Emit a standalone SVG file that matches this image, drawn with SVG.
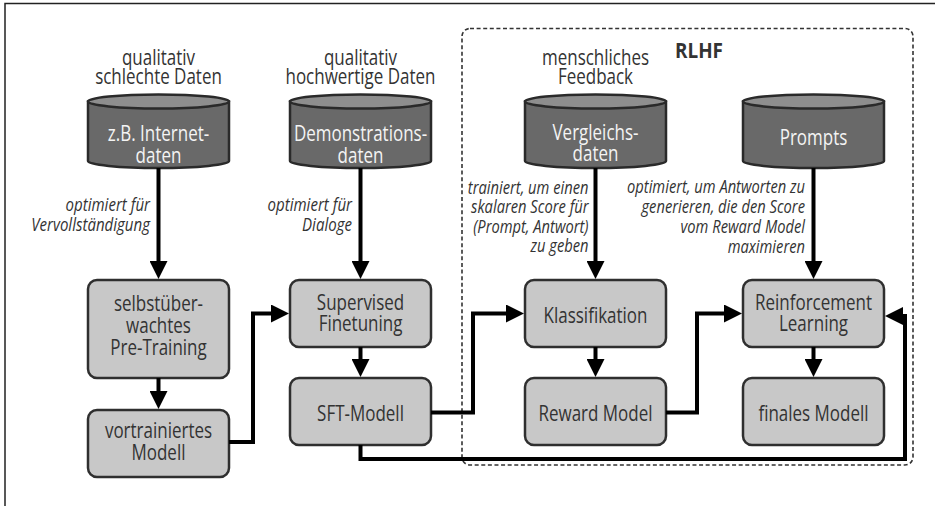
<svg xmlns="http://www.w3.org/2000/svg" width="935" height="506" viewBox="0 0 935 506">
  <style>
    .frame { fill: none; stroke: #222; stroke-width: 1.5; }
    .rlhf { fill: none; stroke: #333; stroke-width: 1.6; stroke-dasharray: 4 2.6; }
    .cyl-body { fill: #696969; stroke: #2a2a2a; stroke-width: 2.5; }
    .cyl-cap { fill: #8e8e8e; stroke: #2a2a2a; stroke-width: 2.5; }
    .box { fill: #c8c8c8; stroke: #2f2f2f; stroke-width: 2.5; }
    .conn { fill: none; stroke: #000; stroke-width: 4; stroke-linejoin: miter; }
    text { font-family: "Open Sans", "Noto Sans", "DejaVu Sans", sans-serif; font-weight: 500; }
    .t-cyl { font-size: 21.5px; fill: #f4f4f4; text-anchor: middle; }
    .t-box { font-size: 21.5px; fill: #333; text-anchor: middle; }
    .t-head { font-size: 21.5px; fill: #333; text-anchor: middle; }
    .t-note { font-size: 17.5px; font-style: italic; fill: #333; text-anchor: end; }
    .t-title { font-size: 22px; font-weight: bold; fill: #333; }
  </style>
  <defs>
    <marker id="arrow" markerUnits="userSpaceOnUse" markerWidth="18" markerHeight="18" viewBox="0 0 18 18" refX="1" refY="9" orient="auto">
      <path d="M0,0 L18,9 L0,18 Z" fill="#000"/>
    </marker>
  </defs>

  <!-- page frame -->
  <path class="frame" d="M5,506 V3.5 H935"/>

  <!-- RLHF region -->
  <g id="rlhf-region">
    <rect class="rlhf" x="462" y="28.5" width="451" height="436.5" rx="8"/>
    <text class="t-title" transform="translate(675,58) scale(0.86,1)">RLHF</text>
  </g>

  <!-- column headings -->
  <g id="headings">
    <text class="t-head" transform="translate(158.5,0) scale(0.79,1)"><tspan x="0" y="65">qualitativ</tspan><tspan x="0" y="84">schlechte Daten</tspan></text>
    <text class="t-head" transform="translate(360.5,0) scale(0.79,1)"><tspan x="0" y="65">qualitativ</tspan><tspan x="0" y="84">hochwertige Daten</tspan></text>
    <text class="t-head" transform="translate(595.5,0) scale(0.79,1)"><tspan x="0" y="65">menschliches</tspan><tspan x="0" y="84">Feedback</tspan></text>
  </g>

  <!-- data stores -->
  <g id="internetdaten">
    <path class="cyl-body" d="M88,101.5 V161 A70.5,7 0 0 0 229,161 V101.5 Z"/>
    <ellipse class="cyl-cap" cx="158.5" cy="101.5" rx="70.5" ry="7"/>
    <text class="t-cyl" transform="translate(158.5,0) scale(0.79,1)"><tspan x="0" y="141">z.B. Internet-</tspan><tspan x="0" y="163">daten</tspan></text>
  </g>
  <g id="demonstrationsdaten">
    <path class="cyl-body" d="M290,101.5 V161 A70.5,7 0 0 0 431,161 V101.5 Z"/>
    <ellipse class="cyl-cap" cx="360.5" cy="101.5" rx="70.5" ry="7"/>
    <text class="t-cyl" transform="translate(360.5,0) scale(0.79,1)"><tspan x="0" y="141">Demonstrations-</tspan><tspan x="0" y="163">daten</tspan></text>
  </g>
  <g id="vergleichsdaten">
    <path class="cyl-body" d="M525,101.5 V161 A70.5,7 0 0 0 666,161 V101.5 Z"/>
    <ellipse class="cyl-cap" cx="595.5" cy="101.5" rx="70.5" ry="7"/>
    <text class="t-cyl" transform="translate(595.5,0) scale(0.79,1)"><tspan x="0" y="140">Vergleichs-</tspan><tspan x="0" y="161">daten</tspan></text>
  </g>
  <g id="prompts">
    <path class="cyl-body" d="M743,101.5 V161 A70.5,7 0 0 0 884,161 V101.5 Z"/>
    <ellipse class="cyl-cap" cx="813.5" cy="101.5" rx="70.5" ry="7"/>
    <text class="t-cyl" transform="translate(813.5,0) scale(0.79,1)"><tspan x="0" y="145">Prompts</tspan></text>
  </g>

  <!-- process steps -->
  <g id="pretraining">
    <rect class="box" x="88" y="280" width="141" height="98" rx="9"/>
    <text class="t-box" transform="translate(158.5,0) scale(0.79,1)"><tspan x="0" y="311.5">selbstüber-</tspan><tspan x="0" y="333">wachtes</tspan><tspan x="0" y="355">Pre-Training</tspan></text>
  </g>
  <g id="vortrainiertes-modell">
    <rect class="box" x="88" y="410" width="141" height="67" rx="9"/>
    <text class="t-box" transform="translate(158.5,0) scale(0.79,1)"><tspan x="0" y="438.5">vortrainiertes</tspan><tspan x="0" y="460">Modell</tspan></text>
  </g>
  <g id="supervised-finetuning">
    <rect class="box" x="290" y="280" width="141" height="67" rx="9"/>
    <text class="t-box" transform="translate(360.5,0) scale(0.79,1)"><tspan x="0" y="310">Supervised</tspan><tspan x="0" y="331.5">Finetuning</tspan></text>
  </g>
  <g id="sft-modell">
    <rect class="box" x="290" y="378" width="141" height="67" rx="9"/>
    <text class="t-box" transform="translate(360.5,0) scale(0.79,1)"><tspan x="0" y="421.5">SFT-Modell</tspan></text>
  </g>
  <g id="klassifikation">
    <rect class="box" x="525" y="280" width="141" height="67" rx="9"/>
    <text class="t-box" transform="translate(595.5,0) scale(0.79,1)"><tspan x="0" y="323">Klassifikation</tspan></text>
  </g>
  <g id="reward-model">
    <rect class="box" x="525" y="378" width="141" height="67" rx="9"/>
    <text class="t-box" transform="translate(595.5,0) scale(0.79,1)"><tspan x="0" y="421.5">Reward Model</tspan></text>
  </g>
  <g id="reinforcement-learning">
    <rect class="box" x="743" y="280" width="141" height="67" rx="9"/>
    <text class="t-box" transform="translate(813.5,0) scale(0.79,1)"><tspan x="0" y="310">Reinforcement</tspan><tspan x="0" y="331.5">Learning</tspan></text>
  </g>
  <g id="finales-modell">
    <rect class="box" x="743" y="378" width="141" height="67" rx="9"/>
    <text class="t-box" transform="translate(813.5,0) scale(0.79,1)"><tspan x="0" y="421.5">finales Modell</tspan></text>
  </g>

  <!-- connectors -->
  <g id="connectors">
    <path class="conn" marker-end="url(#arrow)" d="M158.5,168 V262"/>
    <path class="conn" marker-end="url(#arrow)" d="M360.5,168 V262"/>
    <path class="conn" marker-end="url(#arrow)" d="M595.5,168 V262"/>
    <path class="conn" marker-end="url(#arrow)" d="M813.5,168 V262"/>
    <path class="conn" marker-end="url(#arrow)" d="M158.5,378 V392"/>
    <path class="conn" marker-end="url(#arrow)" d="M360.5,347 V360"/>
    <path class="conn" marker-end="url(#arrow)" d="M595.5,347 V360"/>
    <path class="conn" marker-end="url(#arrow)" d="M813.5,347 V360"/>
    <path class="conn" marker-end="url(#arrow)" d="M229,442 H253 V313.5 H272"/>
    <path class="conn" marker-end="url(#arrow)" d="M431,412.5 H473 V313.5 H507"/>
    <path class="conn" marker-end="url(#arrow)" d="M666,412.5 H697 V313.5 H725"/>
    <path class="conn" marker-end="url(#arrow)" d="M360.5,445 V459 H905 V316 H902"/>
  </g>

  <!-- edge notes -->
  <g id="notes">
    <text class="t-note" transform="translate(150,0) scale(0.86,1)"><tspan x="0" y="211.5">optimiert für</tspan><tspan x="0" y="231.5">Vervollständigung</tspan></text>
    <text class="t-note" transform="translate(352,0) scale(0.86,1)"><tspan x="0" y="211.5">optimiert für</tspan><tspan x="0" y="231.5">Dialoge</tspan></text>
    <text class="t-note" transform="translate(588.5,0) scale(0.84,1)"><tspan x="0" y="194">trainiert, um einen</tspan><tspan x="0" y="213.3">skalaren Score für</tspan><tspan x="0" y="232.6">(Prompt, Antwort)</tspan><tspan x="0" y="251.8">zu geben</tspan></text>
    <text class="t-note" transform="translate(805,0) scale(0.84,1)"><tspan x="0" y="193">optimiert, um Antworten zu</tspan><tspan x="0" y="213">generieren, die den Score</tspan><tspan x="0" y="233">vom Reward Model</tspan><tspan x="0" y="253">maximieren</tspan></text>
  </g>
</svg>
